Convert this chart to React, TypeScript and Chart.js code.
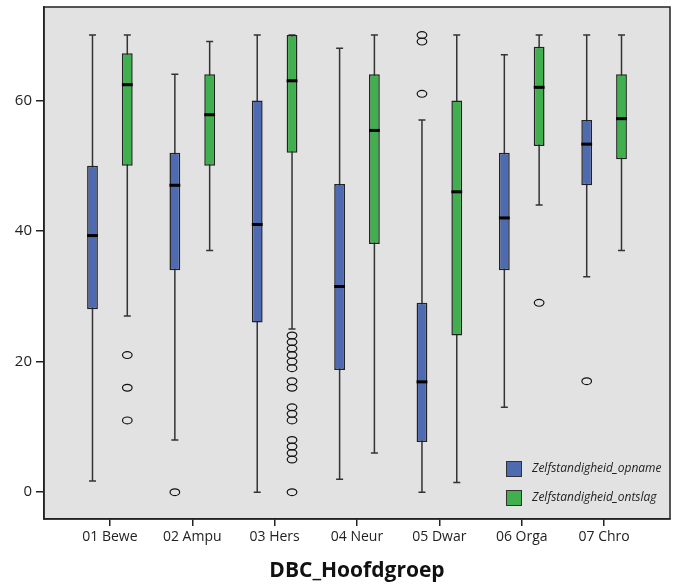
import React, { useEffect, useRef } from 'react';
import { Chart, registerables } from 'chart.js';
Chart.register(...registerables);

const categories = ['01 Bewe', '02 Ampu', '03 Hers', '04 Neur', '05 Dwar', '06 Orga', '07 Chro'];
const yTicks = [0, 20, 40, 60];

const seriesLabels = ['Zelfstandigheid_opname', 'Zelfstandigheid_ontslag'];
const seriesColors = ['#4E6AB1', '#40B04F'];

// Zelfstandigheid_opname
const opnameMin = [1.7, 8, 0, 2, 0, 13, 33];
const opnameQ1 = [28, 34, 26, 18.7, 7.7, 34, 47];
const opnameMedian = [39.3, 47, 41, 31.5, 16.9, 42, 53.3];
const opnameQ3 = [50, 52, 60, 47.2, 29, 52, 57];
const opnameMax = [70, 64, 70, 68, 57, 67, 70];
const opnameOutliers = [[], [0], [], [], [70, 69, 61], [], [17]];

// Zelfstandigheid_ontslag
const ontslagMin = [27, 37, 25, 6, 1.5, 44, 37];
const ontslagQ1 = [50, 50, 52, 38, 24, 53, 51];
const ontslagMedian = [62.4, 57.8, 63, 55.4, 46, 62, 57.2];
const ontslagQ3 = [67.2, 64, 70, 64, 60, 68.2, 64];
const ontslagMax = [70, 69, 70, 70, 70, 70, 70];
const ontslagOutliers = [[21, 16, 11], [], [24, 23, 22, 21, 20, 19, 17, 16, 13, 12, 11, 8, 7, 6, 5, 0], [], [], [29], []];

const stats = [
  { min: opnameMin, q1: opnameQ1, med: opnameMedian, q3: opnameQ3, max: opnameMax, out: opnameOutliers },
  { min: ontslagMin, q1: ontslagQ1, med: ontslagMedian, q3: ontslagQ3, max: ontslagMax, out: ontslagOutliers },
];

const FONT = '"Open Sans", "DejaVu Sans", sans-serif';

export default function App() {
  const ref = useRef<HTMLCanvasElement>(null);

  useEffect(() => {
    document.body.style.margin = '0';
    const canvas = ref.current;
    if (!canvas) return;

    const boxPlugin = {
      id: 'boxplotExtras',
      beforeDraw(chart: any) {
        const { ctx, chartArea: a } = chart;
        ctx.save();
        ctx.fillStyle = '#ffffff';
        ctx.fillRect(0, 0, chart.width, chart.height);
        ctx.fillStyle = '#E1E2E1';
        ctx.fillRect(a.left, a.top, a.right - a.left, a.bottom - a.top);
        ctx.restore();
      },
      beforeDatasetsDraw(chart: any) {
        const { ctx } = chart;
        const y = chart.scales.y;
        ctx.save();
        ctx.strokeStyle = '#333333';
        ctx.lineWidth = 1.5;
        stats.forEach((s, di) => {
          const meta = chart.getDatasetMeta(di);
          meta.data.forEach((el: any, i: number) => {
            const { x } = el.getProps(['x'], true);
            const yMin = y.getPixelForValue(s.min[i]);
            const yMax = y.getPixelForValue(s.max[i]);
            ctx.beginPath();
            ctx.moveTo(x, yMin);
            ctx.lineTo(x, yMax);
            ctx.moveTo(x - 3.5, yMin);
            ctx.lineTo(x + 3.5, yMin);
            ctx.moveTo(x - 3.5, yMax);
            ctx.lineTo(x + 3.5, yMax);
            ctx.stroke();
          });
        });
        ctx.restore();
      },
      afterDatasetsDraw(chart: any) {
        const { ctx, chartArea: a } = chart;
        const y = chart.scales.y;
        ctx.save();
        stats.forEach((s, di) => {
          const meta = chart.getDatasetMeta(di);
          meta.data.forEach((el: any, i: number) => {
            const { x, width } = el.getProps(['x', 'width'], true);
            const ym = y.getPixelForValue(s.med[i]);
            ctx.fillStyle = '#000000';
            ctx.fillRect(x - width / 2, ym - 1.5, width, 3);
            ctx.strokeStyle = '#111111';
            ctx.lineWidth = 1.2;
            s.out[i].forEach((v: number) => {
              const yo = y.getPixelForValue(v);
              ctx.beginPath();
              ctx.ellipse(x, yo, 4.8, 3.4, 0, 0, Math.PI * 2);
              ctx.stroke();
            });
          });
        });
        // plot border
        ctx.strokeStyle = '#222222';
        ctx.lineWidth = 1.5;
        ctx.strokeRect(a.left, a.top, a.right - a.left, a.bottom - a.top);
        // legend
        const lx = a.right - 164;
        const ly = a.bottom - 58;
        ctx.font = 'italic 12px ' + FONT;
        ctx.textBaseline = 'middle';
        ctx.textAlign = 'left';
        seriesLabels.forEach((lab, k) => {
          const top = ly + k * 29;
          ctx.fillStyle = seriesColors[k];
          ctx.fillRect(lx, top, 16, 16);
          ctx.strokeStyle = '#333333';
          ctx.lineWidth = 1;
          ctx.strokeRect(lx + 0.5, top + 0.5, 15, 15);
          ctx.fillStyle = '#222222';
          ctx.fillText(lab, lx + 26, top + 8);
        });
        ctx.restore();
      },
    };

    const chart = new Chart(canvas, {
      type: 'bar',
      data: {
        datasets: stats.map((s, di) => ({
          label: seriesLabels[di],
          data: categories.map((_, i) => ({ x: i, y: [s.q1[i], s.q3[i]] })),
          backgroundColor: seriesColors[di],
          borderColor: '#222222',
          borderWidth: 1.5,
          borderSkipped: false,
          categoryPercentage: 0.845,
          barPercentage: 0.31,
        })) as any,
      },
      options: {
        responsive: false,
        animation: false,
        events: [],
        layout: { padding: { top: 7, right: 4, left: 0, bottom: 0 } },
        plugins: { legend: { display: false }, tooltip: { enabled: false } },
        scales: {
          x: {
            type: 'linear',
            min: -0.8,
            max: 6.8,
            offset: false,
            afterBuildTicks: (scale: any) => {
              scale.ticks = categories.map((_, i) => ({ value: i }));
            },
            afterFit: (scale: any) => {
              scale.height = 65;
              scale.paddingLeft = 0;
              scale.paddingRight = 0;
            },
            grid: { offset: false, drawOnChartArea: false, drawTicks: true, tickLength: 7, color: '#222222', lineWidth: 1.5 },
            border: { display: true, color: '#222222', width: 1.5 },
            ticks: {
              autoSkip: false,
              maxRotation: 0,
              padding: 3,
              color: '#222222',
              font: { family: FONT, size: 14 },
              callback: (v: any) => categories[v] ?? '',
            },
            title: {
              display: true,
              text: 'DBC_Hoofdgroep',
              color: '#111111',
              font: { family: FONT, size: 21, weight: 'bold' },
              padding: { top: 0, bottom: 0 },
            },
          },
          y: {
            type: 'linear',
            min: -4.1,
            max: 74.3,
            afterBuildTicks: (scale: any) => {
              scale.ticks = yTicks.map((v) => ({ value: v }));
            },
            afterFit: (scale: any) => {
              scale.width = 44;
              scale.paddingTop = 0;
              scale.paddingBottom = 0;
            },
            grid: { drawOnChartArea: false, drawTicks: true, tickLength: 8, color: '#222222', lineWidth: 1.5 },
            border: { display: true, color: '#222222', width: 1.5 },
            ticks: {
              padding: 4,
              color: '#222222',
              font: { family: FONT, size: 15 },
            },
          },
        },
      },
      plugins: [boxPlugin],
    });

    return () => chart.destroy();
  }, []);

  return (
    <div style={{ width: 674, height: 584 }}>
      <canvas ref={ref} width={674} height={584} style={{ display: 'block' }} />
    </div>
  );
}
